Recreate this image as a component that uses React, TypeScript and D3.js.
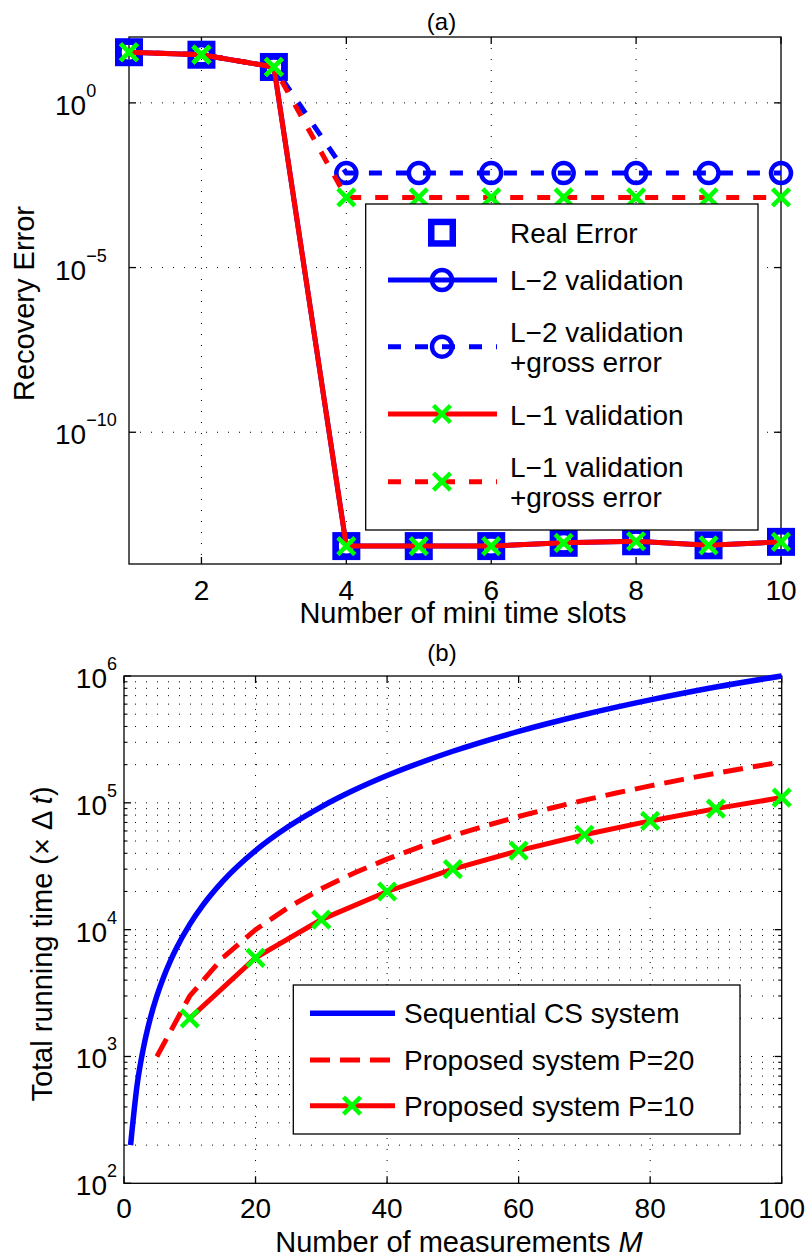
import React from 'react';
import * as d3 from 'd3';

// ---------- Data: panel (a) ----------
const slots = [1, 2, 3, 4, 5, 6, 7, 8, 9, 10];
const realError = [34.5, 29, 12.3, 3.5e-14, 3.5e-14, 3.5e-14, 4.4e-14, 4.9e-14, 3.7e-14, 4.7e-14];
const l2Validation = [34.5, 29, 12.3, 3.5e-14, 3.5e-14, 3.5e-14, 4.4e-14, 4.9e-14, 3.7e-14, 4.7e-14];
const l2Gross = [34.5, 29, 12.3, 7.4e-3, 7.4e-3, 7.4e-3, 7.4e-3, 7.4e-3, 7.4e-3, 7.4e-3];
const l1Validation = [34.5, 29, 12.3, 3.5e-14, 3.5e-14, 3.5e-14, 4.4e-14, 4.9e-14, 3.7e-14, 4.7e-14];
const l1Gross = [34.5, 29, 12.3, 1.35e-3, 1.35e-3, 1.35e-3, 1.35e-3, 1.35e-3, 1.35e-3, 1.35e-3];
const xTicksA = [2, 4, 6, 8, 10];
const yTicksA = [1e0, 1e-5, 1e-10];
const yTickExpA = ['0', '\u22125', '\u221210'];

// ---------- Data: panel (b) ----------
const seqM = [1, 2, 3, 4, 5, 6, 7, 8, 10, 12, 15, 20, 25, 30, 35, 40, 50, 60, 70, 80, 90, 100];
const seqTime = [200, 600, 1200, 2000, 3000, 4200, 5600, 7200, 11000, 15600, 24000, 42000, 65000, 93000, 126000, 164000, 255000, 366000, 497000, 648000, 819000, 1000000];
const p20M = [5, 10, 15, 20, 25, 30, 35, 40, 45, 50, 55, 60, 65, 70, 75, 80, 85, 90, 95, 100];
const p20Time = [1000, 3000, 6000, 10000, 15000, 21000, 28000, 36000, 45000, 55000, 66000, 78000, 91000, 105000, 120000, 136000, 153000, 171000, 190000, 210000];
const p10M = [10, 20, 30, 40, 50, 60, 70, 80, 90, 100];
const p10Time = [2000, 6000, 12000, 20000, 30000, 42000, 56000, 72000, 90000, 110000];
const xTicksB = [0, 20, 40, 60, 80, 100];
const yTicksB = [1e2, 1e3, 1e4, 1e5, 1e6];
const yTickExpB = ['2', '3', '4', '5', '6'];

const FONT = '"Liberation Sans", Arial, Helvetica, sans-serif';
const BLUE = '#0000ff';
const RED = '#ff0000';
const GREEN = '#00ff00';

function XMark({ x, y }: { x: number; y: number }) {
  const a = 8.5;
  return (
    <g stroke={GREEN} strokeWidth={4.5}>
      <line x1={x - a} y1={y - a} x2={x + a} y2={y + a} />
      <line x1={x - a} y1={y + a} x2={x + a} y2={y - a} />
    </g>
  );
}
function Circ({ x, y }: { x: number; y: number }) {
  return <circle cx={x} cy={y} r={10} fill="none" stroke={BLUE} strokeWidth={4.5} />;
}
function Sq({ x, y }: { x: number; y: number }) {
  const s = 21.5;
  return <rect x={x - s / 2} y={y - s / 2} width={s} height={s} fill="none" stroke={BLUE} strokeWidth={6.5} />;
}

export default function App() {
  // Panel (a) geometry
  const aL = 129, aT = 37, aR = 781, aB = 564;
  const xa = d3.scaleLinear().domain([1, 10]).range([aL, aR]);
  const ya = d3.scaleLog().domain([1e-14, 1e2]).range([aB, aT]);
  const lineA = d3.line<number>().x((_, i) => xa(slots[i])).y((d) => ya(d));

  // Panel (b) geometry
  const bL = 124, bT = 676, bR = 781.7, bB = 1183.3;
  const xb = d3.scaleLinear().domain([0, 100]).range([bL, bR]);
  const yb = d3.scaleLog().domain([1e2, 1e6]).range([bB, bT]);
  const seqLine = d3.line<number>().x((_, i) => xb(seqM[i])).y((d) => yb(d)).curve(d3.curveMonotoneX);
  const p20Line = d3.line<number>().x((_, i) => xb(p20M[i])).y((d) => yb(d));
  const p10Line = d3.line<number>().x((_, i) => xb(p10M[i])).y((d) => yb(d));

  const minorB: number[] = [];
  for (let e = 2; e < 6; e++) for (let k = 2; k <= 9; k++) minorB.push(k * Math.pow(10, e));

  const gridStyle = { stroke: '#000', strokeWidth: 1, strokeDasharray: '1 10', fill: 'none' };
  const dashA = '13 14';
  const dashB = '20 10';

  return (
    <svg width={809} height={1260} style={{ position: 'absolute', left: 0, top: 0, background: '#fff' }} fontFamily={FONT}>
      <rect x={0} y={0} width={809} height={1260} fill="#fff" />

      {/* ================= Panel (a) ================= */}
      <text x={441.5} y={30} fontSize={24} textAnchor="middle">(a)</text>
      {/* grid */}
      {xTicksA.filter((t) => t < 10).map((t) => (
        <line key={'gxa' + t} x1={xa(t)} x2={xa(t)} y1={aT} y2={aB} style={gridStyle} />
      ))}
      {yTicksA.map((t) => (
        <line key={'gya' + t} x1={aL} x2={aR} y1={ya(t)} y2={ya(t)} style={gridStyle} />
      ))}
      {/* ticks */}
      {xTicksA.map((t) => (
        <g key={'txa' + t} stroke="#000" strokeWidth={1.3}>
          <line x1={xa(t)} x2={xa(t)} y1={aB} y2={aB - 7} />
          <line x1={xa(t)} x2={xa(t)} y1={aT} y2={aT + 7} />
        </g>
      ))}
      {yTicksA.map((t) => (
        <g key={'tya' + t} stroke="#000" strokeWidth={1.3}>
          <line x1={aL} x2={aL + 7} y1={ya(t)} y2={ya(t)} />
          <line x1={aR} x2={aR - 7} y1={ya(t)} y2={ya(t)} />
        </g>
      ))}
      <rect x={aL} y={aT} width={aR - aL} height={aB - aT} fill="none" stroke="#000" strokeWidth={1.3} />
      {/* tick labels */}
      {xTicksA.map((t) => (
        <text key={'lxa' + t} x={xa(t)} y={aB + 36} fontSize={28} textAnchor="middle">{t}</text>
      ))}
      {yTicksA.map((t, i) => (
        <text key={'lya' + t} x={55} y={ya(t) + 12} fontSize={28}>
          10<tspan dy={-18} fontSize={18}>{yTickExpA[i]}</tspan>
        </text>
      ))}
      <text x={463} y={623} fontSize={29} textAnchor="middle">Number of mini time slots</text>
      <text transform={`translate(34,${(aT + aB) / 2 + 3}) rotate(-90)`} fontSize={29} textAnchor="middle">Recovery Error</text>

      {/* series */}
      {realError.map((d, i) => <Sq key={'sq' + i} x={xa(slots[i])} y={ya(d)} />)}
      <path d={lineA(l2Validation) || ''} fill="none" stroke={BLUE} strokeWidth={5} />
      {l2Validation.map((d, i) => <Circ key={'c1' + i} x={xa(slots[i])} y={ya(d)} />)}
      <path d={lineA(l2Gross) || ''} fill="none" stroke={BLUE} strokeWidth={5} strokeDasharray={dashA} />
      {l2Gross.map((d, i) => <Circ key={'c2' + i} x={xa(slots[i])} y={ya(d)} />)}
      <path d={lineA(l1Validation) || ''} fill="none" stroke={RED} strokeWidth={5} />
      {l1Validation.map((d, i) => <XMark key={'x1' + i} x={xa(slots[i])} y={ya(d)} />)}
      <path d={lineA(l1Gross) || ''} fill="none" stroke={RED} strokeWidth={5} strokeDasharray={dashA} />
      {l1Gross.map((d, i) => <XMark key={'x2' + i} x={xa(slots[i])} y={ya(d)} />)}

      {/* legend (a) */}
      <rect x={365.7} y={204} width={758 - 365.7} height={530 - 204} fill="#fff" stroke="#000" strokeWidth={1.3} />
      <Sq x={442} y={232.7} />
      <text x={510} y={242.7} fontSize={28}>Real Error</text>
      <line x1={388} x2={497} y1={280} y2={280} stroke={BLUE} strokeWidth={5} />
      <Circ x={442} y={280} />
      <text x={510} y={289.5} fontSize={28}>L{'\u2212'}2 validation</text>
      <line x1={388} x2={497} y1={346.7} y2={346.7} stroke={BLUE} strokeWidth={5} strokeDasharray={dashA} />
      <Circ x={442} y={346.7} />
      <text x={510} y={342} fontSize={28}>L{'\u2212'}2 validation</text>
      <text x={510} y={372} fontSize={28}>+gross error</text>
      <line x1={388} x2={497} y1={414} y2={414} stroke={RED} strokeWidth={5} />
      <XMark x={442} y={414} />
      <text x={510} y={425} fontSize={28}>L{'\u2212'}1 validation</text>
      <line x1={388} x2={497} y1={481.7} y2={481.7} stroke={RED} strokeWidth={5} strokeDasharray={dashA} />
      <XMark x={442} y={481.7} />
      <text x={510} y={477} fontSize={28}>L{'\u2212'}1 validation</text>
      <text x={510} y={507} fontSize={28}>+gross error</text>

      {/* ================= Panel (b) ================= */}
      <text x={442} y={661} fontSize={24} textAnchor="middle">(b)</text>
      {xTicksB.filter((t) => t > 0 && t < 100).map((t) => (
        <line key={'gxb' + t} x1={xb(t)} x2={xb(t)} y1={bT} y2={bB} style={gridStyle} />
      ))}
      {yTicksB.filter((t) => t > 1e2 && t < 1e6).map((t) => (
        <line key={'gyb' + t} x1={bL} x2={bR} y1={yb(t)} y2={yb(t)} style={gridStyle} />
      ))}
      {minorB.map((t) => (
        <line key={'gmb' + t} x1={bL} x2={bR} y1={yb(t)} y2={yb(t)} style={gridStyle} />
      ))}
      {xTicksB.map((t) => (
        <g key={'txb' + t} stroke="#000" strokeWidth={1.3}>
          <line x1={xb(t)} x2={xb(t)} y1={bB} y2={bB - 7} />
          <line x1={xb(t)} x2={xb(t)} y1={bT} y2={bT + 7} />
        </g>
      ))}
      {yTicksB.map((t) => (
        <g key={'tyb' + t} stroke="#000" strokeWidth={1.3}>
          <line x1={bL} x2={bL + 7} y1={yb(t)} y2={yb(t)} />
          <line x1={bR} x2={bR - 7} y1={yb(t)} y2={yb(t)} />
        </g>
      ))}
      {minorB.map((t) => (
        <g key={'tmb' + t} stroke="#000" strokeWidth={1.1}>
          <line x1={bL} x2={bL + 3.5} y1={yb(t)} y2={yb(t)} />
          <line x1={bR} x2={bR - 3.5} y1={yb(t)} y2={yb(t)} />
        </g>
      ))}
      <rect x={bL} y={bT} width={bR - bL} height={bB - bT} fill="none" stroke="#000" strokeWidth={1.3} />
      {xTicksB.map((t) => (
        <text key={'lxb' + t} x={xb(t)} y={bB + 35} fontSize={28} textAnchor="middle">{t}</text>
      ))}
      {yTicksB.map((t, i) => (
        <text key={'lyb' + t} x={117} y={yb(t) + 12} fontSize={28} textAnchor="end">
          10<tspan dy={-18} fontSize={18}>{yTickExpB[i]}</tspan>
        </text>
      ))}
      <text x={459} y={1252} fontSize={29} textAnchor="middle">
        Number of measurements <tspan fontStyle="italic">M</tspan>
      </text>
      <text transform="translate(52,944) rotate(-90)" fontSize={29} textAnchor="middle">
        Total running time ({'\u00d7'} {'\u0394'} <tspan fontStyle="italic">t</tspan>)
      </text>

      <path d={seqLine(seqTime) || ''} fill="none" stroke={BLUE} strokeWidth={5.5} />
      <path d={p20Line(p20Time) || ''} fill="none" stroke={RED} strokeWidth={5} strokeDasharray={dashB} />
      <path d={p10Line(p10Time) || ''} fill="none" stroke={RED} strokeWidth={5} />
      {p10Time.map((d, i) => <XMark key={'xb' + i} x={xb(p10M[i])} y={yb(d)} />)}

      {/* legend (b) */}
      <rect x={293.3} y={985} width={740 - 293.3} height={1134 - 985} fill="#fff" stroke="#000" strokeWidth={1.3} />
      <line x1={310} x2={395} y1={1013.3} y2={1013.3} stroke={BLUE} strokeWidth={5.5} />
      <text x={404} y={1023.3} fontSize={28}>Sequential CS system</text>
      <line x1={310} x2={395} y1={1060} y2={1060} stroke={RED} strokeWidth={5} strokeDasharray={dashB} />
      <text x={404} y={1070} fontSize={28}>Proposed system P=20</text>
      <line x1={310} x2={395} y1={1105.7} y2={1105.7} stroke={RED} strokeWidth={5} />
      <XMark x={352} y={1105.7} />
      <text x={404} y={1115.7} fontSize={28}>Proposed system P=10</text>
    </svg>
  );
}
